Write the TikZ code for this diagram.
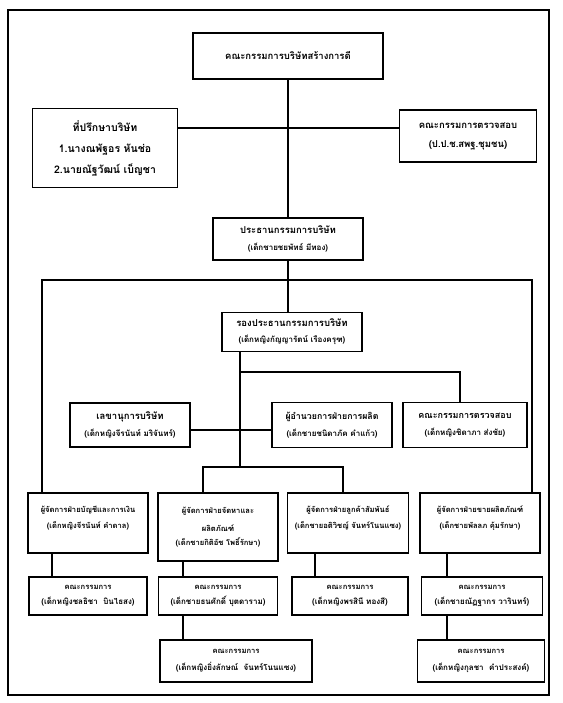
\documentclass[tikz,border=0pt]{standalone}
\usepackage{fontspec}
\newfontfamily\thaifont[Script=Thai]{Loma}
\usetikzlibrary{positioning}

\tikzset{
  orgbox/.style={draw, line width=1.6pt, align=center, inner sep=1pt,
    font=\thaifont\bfseries\fontsize{9.5}{12}\selectfont},
  wh/.style 2 args={minimum width=#1pt, minimum height=#2pt},
  link/.style={line width=1.9pt},
}
\newcommand{\nm}[1]{{\fontsize{8}{10}\selectfont #1}}
\newcommand{\sm}[1]{{\fontsize{7.6}{10}\selectfont #1}}

\begin{document}
\begin{tikzpicture}[x=1pt,y=-1pt]
  \useasboundingbox (0,0) rectangle (562,703);
  \draw[line width=1.1pt] (8,10) rectangle (549,695);

  % top level
  \node[orgbox, wh={190}{46}] (board) at (288,56) {คณะกรรมการบริษัทสร้างการดี};
  \node[orgbox, wh={145}{79}, font=\thaifont\bfseries\fontsize{10.5}{14}\selectfont] (advisor) at (105,148) {ที่ปรึกษาบริษัท\\[7pt] 1.นางณพัฐอร หันช่อ\\[7pt] 2.นายณัฐวัฒน์ เบ็ญชา};
  \node[orgbox, wh={137}{52}] (audit) at (468,136) {คณะกรรมการตรวจสอบ\\[7pt] (ป.ป.ช.สพฐ.ชุมชน)};

  \node[orgbox, wh={150}{42}] (chair) at (288,239) {ประธานกรรมการบริษัท\\[5pt] \nm{(เด็กชายชยพัทธ์ มีทอง)}};
  \node[orgbox, wh={140}{39}] (vice) at (292,332) {รองประธานกรรมการบริษัท\\[4pt] \nm{(เด็กหญิงกัญญารัตน์ เรืองครุฑ)}};

  % middle row
  \node[orgbox, wh={120}{44}] (secretary) at (130,425) {เลขานุการบริษัท\\[5pt] \nm{(เด็กหญิงจีรนันท์ มริจันทร์)}};
  \node[orgbox, wh={120}{45}, font=\thaifont\bfseries\fontsize{8.8}{12}\selectfont] (prod) at (332,425) {ผู้อำนวยการฝ่ายการผลิต\\[5pt] \nm{(เด็กชายชนิดาภัค คำแก้ว)}};
  \node[orgbox, wh={124}{45}, font=\thaifont\bfseries\fontsize{9}{12}\selectfont] (audit2) at (465,425) {คณะกรรมการตรวจสอบ\\[5pt] \nm{(เด็กหญิงชิดาภา ส่งชัย)}};

  % managers
  \node[orgbox, wh={120}{60}] (mgr1) at (88,523) {\sm{ผู้จัดการฝ่ายบัญชีและการเงิน}\\[4pt] \sm{(เด็กหญิงจีรนันท์ คำดาล)}\\ \mbox{}};
  \node[orgbox, wh={120}{68}] (mgr2) at (218,527) {\sm{ผู้จัดการฝ่ายจัดหาและ}\\[6pt] \sm{ผลิตภัณฑ์}\\[2pt] \sm{(เด็กชายกิติอัช โพธิ์รักษา)}};
  \node[orgbox, wh={121}{60}] (mgr3) at (348,523) {\sm{ผู้จัดการฝ่ายลูกค้าสัมพันธ์}\\[4pt] \sm{(เด็กชายอติวิชญ์ จันทร์โนนแซง)}\\ \mbox{}};
  \node[orgbox, wh={120}{60}] (mgr4) at (480,523) {\sm{ผู้จัดการฝ่ายขายผลิตภัณฑ์}\\[4pt] \sm{(เด็กชายพัลลภ คุ้มรักษา)}\\ \mbox{}};

  % committees
  \node[orgbox, wh={118}{38}] (com1) at (88,596) {\sm{คณะกรรมการ}\\[3pt] \nm{(เด็กหญิงชลธิชา\ \ บินไธสง)}};
  \node[orgbox, wh={119}{38}] (com2) at (218,596) {\sm{คณะกรรมการ}\\[3pt] \nm{(เด็กชายธนศักดิ์ บุตดาราม)}};
  \node[orgbox, wh={116}{38}] (com3) at (350,596) {\sm{คณะกรรมการ}\\[3pt] \nm{(เด็กหญิงพรสินี ทองสี)}};
  \node[orgbox, wh={121}{38}] (com4) at (482,596) {\sm{คณะกรรมการ}\\[3pt] \nm{(เด็กชายณัฏฐากร วารินทร์)}};
  \node[orgbox, wh={152}{42}] (com5) at (236,661) {\sm{คณะกรรมการ}\\[5pt] \nm{(เด็กหญิงยิ่งลักษณ์\ \ จันทร์โนนแซง)}};
  \node[orgbox, wh={127}{42}] (com6) at (481,661) {\sm{คณะกรรมการ}\\[5pt] \nm{(เด็กหญิงกุลชา\ \ คำประสงค์)}};

  % junctions
  \coordinate (jtop) at (288,128);
  \coordinate (busL) at (42,280);
  \coordinate (busR) at (532,280);
  \coordinate (vdrop) at (240,372);
  \coordinate (jaud) at (460,372);
  \coordinate (jsec) at (240,430);
  \coordinate (jmgr) at (240,467);
  \coordinate (jL) at (203,467);
  \coordinate (jR) at (343,467);

  \draw[link] (board.south) -- (chair.north);
  \draw[link] (advisor.east |- jtop) -- (audit.west |- jtop);
  \draw[link] (chair.south) -- (chair.south |- vice.north);
  \draw[link] (busL |- mgr1.north) -- (busL) -- (busR) -- (busR |- mgr4.north);
  \draw[link] (vdrop |- vice.south) -- (jmgr);
  \draw[link] (vdrop) -- (jaud) -- (jaud |- audit2.north);
  \draw[link] (secretary.east |- jsec) -- (prod.west |- jsec);
  \draw[link] (jL |- mgr2.north) -- (jL) -- (jR) -- (jR |- mgr3.north);

  \foreach \a/\b/\x in {mgr1/com1/52, mgr2/com2/183, com2/com5/183,
                        mgr3/com3/315, mgr4/com4/447, com4/com6/447}
    \draw[link] (\x,0 |- \a.south) -- (\x,0 |- \b.north);
\end{tikzpicture}
\end{document}
